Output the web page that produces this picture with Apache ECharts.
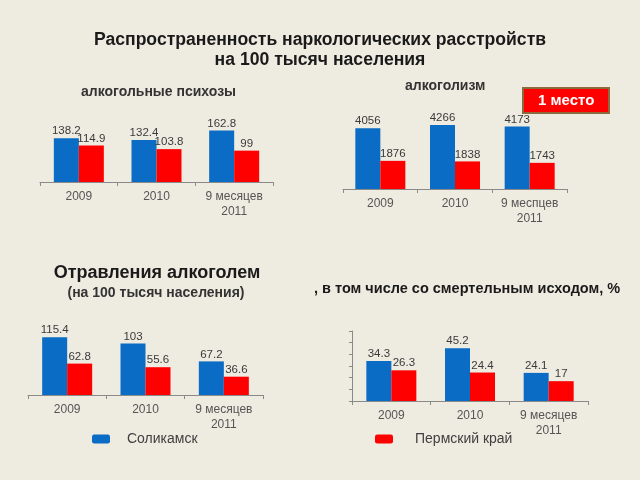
<!DOCTYPE html>
<html>
<head>
<meta charset="utf-8">
<script src="https://cdn.jsdelivr.net/npm/echarts@6/dist/echarts.min.js"></script>
<style>html,body{margin:0;padding:0;background:#EEEBE1;}#c{width:640px;height:480px;}</style>
</head>
<body>
<div id="c"></div>
<script>
var categories = ['2009', '2010', '9 месяцев\n2011'];
var categoriesAlc = ['2009', '2010', '9 меспцев\n2011'];
var seriesNames = ['Соликамск', 'Пермский край'];
var psychosisSol = [138.2, 132.4, 162.8];
var psychosisPerm = [114.9, 103.8, 99];
var alcoholismSol = [4056, 4266, 4173];
var alcoholismPerm = [1876, 1838, 1743];
var poisoningSol = [115.4, 103, 67.2];
var poisoningPerm = [62.8, 55.6, 36.6];
var fatalSol = [34.3, 45.2, 24.1];
var fatalPerm = [26.3, 24.4, 17];

var BLUE = '#0A6CC4', RED = '#FF0000';
var FONT = '"Liberation Sans", Arial, sans-serif';
var chart = echarts.init(document.getElementById('c'));

var grids = [
  {left: 40, top: 125, width: 233, height: 57},
  {left: 343, top: 114, width: 224, height: 75},
  {left: 28, top: 325, width: 235, height: 70},
  {left: 352, top: 331, width: 236, height: 70}
];
var cats = [categories, categoriesAlc, categories, categories];
var maxes = [180, 5000, 140, 60];
var data = [[psychosisSol, psychosisPerm], [alcoholismSol, alcoholismPerm], [poisoningSol, poisoningPerm], [fatalSol, fatalPerm]];

var xAxes = [], yAxes = [], series = [];
for (var i = 0; i < 4; i++) {
  xAxes.push({
    type: 'category', gridIndex: i, data: cats[i],
    axisLine: {lineStyle: {color: '#8a8a8a', width: 1}},
    axisTick: {show: true, length: 4, lineStyle: {color: '#8a8a8a'}},
    axisLabel: {color: '#555', fontSize: 12, fontFamily: FONT, lineHeight: 15, margin: 7, interval: 0}
  });
  yAxes.push({
    type: 'value', gridIndex: i, min: 0, max: maxes[i], interval: i === 3 ? 10 : maxes[i],
    show: i === 3,
    axisLine: {show: true, lineStyle: {color: '#8a8a8a'}},
    axisTick: {show: true, length: 3, lineStyle: {color: '#8a8a8a'}},
    axisLabel: {show: false},
    splitLine: {show: false}
  });
  for (var s = 0; s < 2; s++) {
    series.push({
      type: 'bar', name: seriesNames[s], xAxisIndex: i, yAxisIndex: i,
      data: data[i][s], barWidth: 25, barGap: '0%',
      itemStyle: {color: s === 0 ? BLUE : RED},
      label: {show: true, position: 'top', distance: 1, color: '#3a3a3a', fontSize: 11.5, fontFamily: FONT},
      animation: false
    });
  }
}

chart.setOption({
  backgroundColor: '#EEEBE1',
  animation: false,
  title: [
    {text: 'Распространенность наркологических расстройств\nна 100 тысяч населения', left: 'center', top: 25,
     textStyle: {fontSize: 17.6, fontWeight: 'bold', color: '#1a1a1a', fontFamily: FONT, lineHeight: 20}},
    {text: 'алкогольные психозы', left: 76, top: 80, textStyle: {fontSize: 14, fontWeight: 'bold', color: '#333', fontFamily: FONT}},
    {text: 'алкоголизм', left: 400, top: 74, textStyle: {fontSize: 14, fontWeight: 'bold', color: '#333', fontFamily: FONT}},
    {text: '1 место', left: 523, top: 88, backgroundColor: '#FF0000', borderColor: '#8B6B3D', borderWidth: 2,
     padding: [5, 15, 5, 15], textStyle: {fontSize: 15, fontWeight: 'bold', color: '#fff', fontFamily: FONT}},
    {text: 'Отравления алкоголем', left: 152, textAlign: 'center', top: 259, textStyle: {fontSize: 18, fontWeight: 'bold', color: '#1a1a1a', fontFamily: FONT}},
    {text: '(на 100 тысяч населения)', left: 151, textAlign: 'center', top: 281, textStyle: {fontSize: 14, fontWeight: 'bold', color: '#333', fontFamily: FONT}},
    {text: ', в том числе со смертельным исходом, %', left: 309, top: 276, textStyle: {fontSize: 14.5, fontWeight: 'bold', color: '#1a1a1a', fontFamily: FONT}}
  ],
  legend: [
    {data: [seriesNames[0]], left: 87, top: 427, icon: 'roundRect', itemWidth: 18, itemHeight: 9,
     textStyle: {fontSize: 14, color: '#404040', fontFamily: FONT, padding: [4, 0, 0, 12]}},
    {data: [seriesNames[1]], left: 370, top: 427, icon: 'roundRect', itemWidth: 18, itemHeight: 9,
     textStyle: {fontSize: 14, color: '#404040', fontFamily: FONT, padding: [4, 0, 0, 17]}}
  ],
  grid: grids,
  xAxis: xAxes,
  yAxis: yAxes,
  series: series
});
</script>
</body>
</html>
